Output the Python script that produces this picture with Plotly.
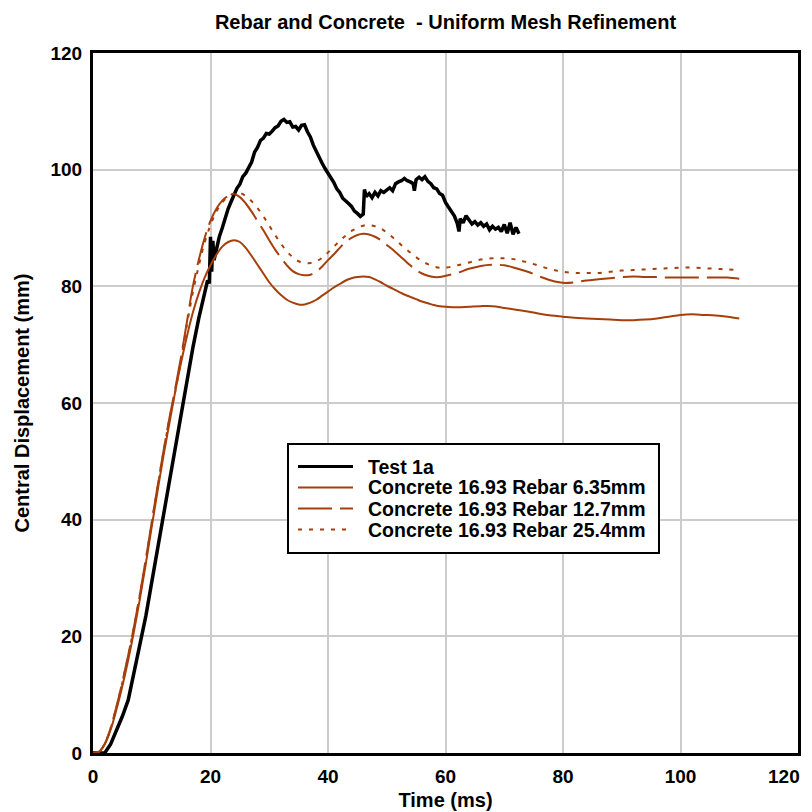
import plotly.graph_objects as go

# ---------------- data ----------------
test_t = [0, 1, 2, 3, 4, 5, 6, 7, 8, 9, 10, 11, 12, 13, 14, 15, 16, 17, 18, 19,
          19.5, 19.8, 20.0, 20.2, 20.4, 20.6, 21, 21.5, 22, 22.5, 23, 23.5, 24, 24.5,
          25, 25.5, 26, 26.5, 27, 27.5, 28, 28.5, 29, 29.5, 30, 30.5, 31, 31.5, 32,
          32.5, 33, 33.5, 34, 34.5, 35, 35.5, 36, 36.5, 37, 37.5, 38, 38.5, 39, 39.5,
          40, 40.5, 41, 41.5, 42, 42.5, 43, 43.5, 44, 44.5, 45, 45.5, 46, 46.2, 46.5,
          47, 47.5, 48, 48.5, 49, 49.5, 50, 50.5, 51, 51.5, 52, 52.5, 53, 53.5, 54,
          54.5, 54.7, 55, 55.5, 56, 56.5, 57, 57.5, 58, 58.5, 59, 59.5, 60, 60.5, 61,
          61.5, 62, 62.3, 62.5, 63, 63.5, 64, 64.5, 65, 65.5, 66, 66.5, 67, 67.5, 68,
          68.5, 69, 69.5, 70, 70.5, 71, 71.5, 72, 72.5]
test_v = [0, 0, 0, 1.5, 3.8, 6.3, 9.1, 13.8, 18.2, 23.5, 29.3, 35.0, 40.8, 46.5, 52.5,
          58.3, 64.0, 69.5, 74.5, 79.0,
          81.0, 80.5, 88.5, 82.5, 87.8, 84.5, 86.5, 88.5, 90.0, 91.8, 93.3, 94.5, 95.8, 96.8,
          97.5, 98.8, 99.4, 100.5, 101.3, 103.0, 103.8, 105.0, 105.4, 106.2, 106.1, 106.6,
          107.2, 107.5, 108.3, 108.6, 108.1, 108.2, 107.3, 107.4, 106.8, 107.6, 107.7,
          106.5, 105.6, 104.2, 103.1, 102.0, 101.1, 100.2, 99.4, 98.6, 97.8, 96.7, 96.1,
          95.1, 94.7, 94.2, 93.7, 92.9, 92.5, 92.0, 92.4, 96.6, 95.4, 95.9, 95.2, 96.1,
          95.5, 96.4, 96.1, 96.6, 96.9, 96.4, 97.6, 97.9, 98.1, 98.5, 98.1, 97.9, 97.6,
          96.4, 98.3, 98.7, 98.3, 98.8, 98.0, 97.6, 96.9, 96.7, 95.9, 95.6, 94.4, 93.6,
          92.9, 92.1, 90.8, 89.4, 91.6, 90.9, 92.1, 91.3, 90.7, 91.1, 90.5, 90.9, 90.3,
          90.7, 89.7, 90.3, 89.8, 90.1, 89.4, 90.6, 89.1, 90.9, 88.9, 90.1, 89.0]

sim_t = [0, 1, 2, 3, 4, 5, 6, 7, 8, 9, 10, 11, 12, 13, 14, 15, 16, 17, 18, 19, 20,
         21, 22, 23, 24, 25, 26, 27, 28, 29, 30, 31, 32, 33, 34, 35, 36, 37, 38, 39,
         40, 41, 42, 43, 44, 45, 46, 47, 48, 49, 50, 51, 52, 53, 54, 55, 56, 57, 58,
         59, 60, 62, 64, 66, 68, 70, 72, 74, 76, 78, 80, 82, 84, 86, 88, 90, 92, 94,
         96, 98, 100, 102, 104, 106, 108, 110]

rebar_635 = [0, 0.2, 1.5, 4.0, 7.5, 11.5, 16.0, 21.0, 26.5, 32.5, 38.8, 45.0, 51.0,
             56.5, 62.0, 67.0, 71.5, 75.5, 78.8, 81.5, 83.6, 85.4, 86.8, 87.6, 87.9,
             87.6, 86.6, 85.2, 83.7, 82.2, 80.7, 79.5, 78.5, 77.7, 77.2, 76.9, 76.9,
             77.2, 77.7, 78.4, 79.1, 79.8, 80.4, 81.0, 81.4, 81.6, 81.7, 81.6, 81.2,
             80.7, 80.1, 79.6, 79.1, 78.6, 78.2, 77.8, 77.4, 77.1, 76.8, 76.6, 76.5,
             76.4, 76.5, 76.6, 76.6, 76.3, 76.0, 75.7, 75.3, 75.0, 74.8, 74.6, 74.5,
             74.4, 74.3, 74.2, 74.2, 74.3, 74.5, 74.8, 75.1, 75.2, 75.1, 75.0, 74.8,
             74.5]

rebar_127 = [0, 0.2, 1.6, 4.3, 8.0, 12.2, 16.8, 21.8, 27.3, 33.3, 39.6, 45.8, 51.8,
             57.4, 62.5, 68.0, 74.0, 80.0, 84.5, 88.3, 91.2, 93.3, 94.7, 95.5, 95.8,
             95.3, 94.2, 92.8, 91.2, 89.6, 87.9, 86.3, 84.9, 83.6, 82.6, 82.1, 81.9,
             82.0, 82.5, 83.4, 84.5, 85.5, 86.6, 87.6, 88.3, 88.8, 89.0, 88.9, 88.5,
             87.9, 87.1, 86.3, 85.4, 84.5, 83.6, 82.8, 82.2, 81.8, 81.6, 81.6, 81.8,
             82.3, 83.0, 83.5, 83.7, 83.6, 83.1, 82.5, 81.7, 81.0, 80.6, 80.7, 81.0,
             81.2, 81.4, 81.6, 81.7, 81.6, 81.6, 81.5, 81.5, 81.5, 81.5, 81.5, 81.5,
             81.3]

rebar_254 = [0, 0.2, 1.6, 4.2, 7.9, 12.1, 16.7, 21.7, 27.2, 33.2, 39.4, 45.6, 51.6,
             57.2, 62.0, 67.5, 73.5, 79.0, 83.5, 87.5, 90.5, 92.8, 94.4, 95.4, 95.9,
             96.0, 95.5, 94.6, 93.4, 92.0, 90.4, 88.8, 87.3, 86.0, 85.0, 84.3, 84.0,
             84.0, 84.3, 84.9, 85.8, 86.8, 87.8, 88.7, 89.5, 90.0, 90.4, 90.5, 90.3,
             89.9, 89.2, 88.4, 87.5, 86.6, 85.8, 85.0, 84.3, 83.8, 83.4, 83.2, 83.2,
             83.6, 84.1, 84.6, 84.8, 84.8, 84.6, 84.1, 83.5, 82.9, 82.5, 82.3, 82.3,
             82.3, 82.5, 82.7, 82.8, 82.9, 83.0, 83.1, 83.2, 83.2, 83.1, 83.0, 82.9,
             82.8]

names = ["Test 1a", "Concrete 16.93 Rebar 6.35mm",
         "Concrete 16.93 Rebar 12.7mm", "Concrete 16.93 Rebar 25.4mm"]

x_ticks = [0, 20, 40, 60, 80, 100, 120]
x_labels = ["0", "20", "40", "60", "80", "100", "120"]
y_ticks = [0, 20, 40, 60, 80, 100, 120]

# ---------------- figure ----------------
ORANGE = "#A63F0C"
FONT = "Liberation Sans"
TICKFONT = dict(family=FONT, size=19, color="black", weight="bold")
# the page places the figure 8px in from the top-left corner
W = H = 804
PL, PR, PT, PB = 85, 14, 45, 59          # plot area: screen x 93..798, y 53..753
PW, PH = W - PL - PR, H - PT - PB


def px(X):   # screen x -> paper x
    return (X - 8 - PL) / PW


def py(Y):   # screen y -> paper y
    return 1 - (Y - 8 - PT) / PH


styles = [dict(color="black", width=3.5),
          dict(color=ORANGE, width=2, shape="spline"),
          dict(color=ORANGE, width=2, dash="34px,8px", shape="spline"),
          dict(color=ORANGE, width=2, dash="4px,7px", shape="spline")]
series = [(test_t, test_v), (sim_t, rebar_635), (sim_t, rebar_127), (sim_t, rebar_254)]

fig = go.Figure()
for (xs, ys), nm, st in zip(series, names, styles):
    fig.add_trace(go.Scatter(x=xs, y=ys, mode="lines", name=nm, line=st,
                             showlegend=False))

# legend box drawn by hand to match the compact original
shapes = [dict(type="rect", xref="paper", yref="paper",
               x0=px(288), x1=px(659), y0=py(444), y1=py(553),
               line=dict(color="black", width=2), fillcolor="white", layer="above")]
annotations = []
row_y = [466.5, 487.5, 508.5, 529.5]
for nm, st, yy in zip(names, styles, row_y):
    ln = dict(color=st["color"], width=st["width"] if st["width"] < 3 else 3)
    if "dash" in st:
        ln["dash"] = st["dash"]
    shapes.append(dict(type="line", xref="paper", yref="paper",
                       x0=px(298), x1=px(353), y0=py(yy), y1=py(yy),
                       line=ln, layer="above"))
    annotations.append(dict(text=nm, xref="paper", yref="paper",
                            x=px(366), y=py(yy), xanchor="left", yanchor="middle",
                            showarrow=False,
                            font=dict(family=FONT, size=19.5, color="black",
                                      weight="bold")))

# the last x tick label sits at the very edge of the page: draw it right-aligned
annotations.append(dict(text=x_labels[-1], xref="paper", yref="paper",
                        x=px(802), y=py(776), xanchor="right", yanchor="middle",
                        showarrow=False, font=TICKFONT))

axis_common = dict(
    showline=True, linecolor="black", linewidth=3, mirror=True,
    showgrid=True, gridcolor="#CCCCCC", gridwidth=1.5,
    zeroline=False, ticks="", automargin=False,
    tickfont=TICKFONT,
)

fig.update_layout(
    width=W, height=H,
    margin=dict(l=PL, r=PR, t=PT, b=PB),
    plot_bgcolor="white", paper_bgcolor="white",
    title=dict(text="Rebar and Concrete  - Uniform Mesh Refinement",
               font=dict(family=FONT, size=20, color="black", weight="bold"),
               x=0.5, xref="paper", xanchor="center",
               y=1 - (22 - 8) / H, yref="container", yanchor="middle",
               automargin=False),
    xaxis=dict(range=[0, 120], tickvals=x_ticks,
               ticktext=x_labels[:-1] + [""], ticklabelstandoff=4,
               title=dict(text="Time (ms)", standoff=8,
                          font=dict(family=FONT, size=20, color="black", weight="bold")),
               **axis_common),
    yaxis=dict(range=[0, 120], tickvals=y_ticks, ticklabelstandoff=4,
               title=dict(text="Central Displacement (mm)", standoff=16,
                          font=dict(family=FONT, size=20, color="black", weight="bold")),
               **axis_common),
    shapes=shapes,
    annotations=annotations,
    showlegend=False,
)

fig.write_html("out.html")
